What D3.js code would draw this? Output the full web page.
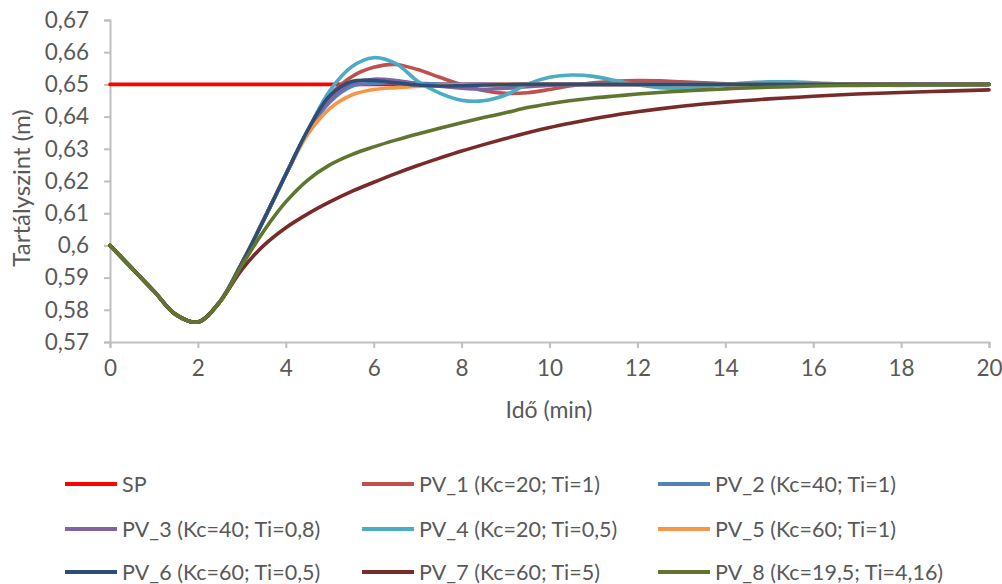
<!DOCTYPE html>
<html><head><meta charset="utf-8">
<script src="https://cdn.jsdelivr.net/npm/d3@7/dist/d3.min.js"></script>
<style>
body{margin:0;background:#fff;overflow:hidden;}
text{font-family:Lato,"Open Sans",sans-serif;fill:#595959;}
</style>
</head><body>
<svg id="chart" width="1002" height="584"></svg>
<script>
// ---- data ----
const times = [0,0.5,1,1.5,2,2.5,3,3.5,4,4.5,5,5.5,6,6.5,7,7.5,8,8.5,9,9.5,10,10.5,11,11.5,12,12.5,13,13.5,14,14.5,15,15.5,16,17,18,19,20];
const spValue = 0.65;
const pv1 = [0.6,0.5929,0.5858,0.5785,0.5762,0.5825,0.5945,0.608,0.622,0.6356,0.6465,0.6524,0.6553,0.6562,0.6546,0.6522,0.6499,0.6481,0.6472,0.6474,0.6484,0.6496,0.6505,0.651,0.6512,0.6511,0.6508,0.6505,0.6502,0.65,0.6499,0.6499,0.6499,0.6499,0.65,0.65,0.65];
const pv2 = [0.6,0.5929,0.5858,0.5785,0.5762,0.5825,0.5945,0.608,0.622,0.6352,0.6445,0.6494,0.6503,0.6505,0.6503,0.6501,0.65,0.65,0.65,0.65,0.65,0.65,0.65,0.65,0.65,0.65,0.65,0.65,0.65,0.65,0.65,0.65,0.65,0.65,0.65,0.65,0.65];
const pv3 = [0.6,0.5929,0.5858,0.5785,0.5762,0.5825,0.5945,0.608,0.622,0.6355,0.6452,0.6503,0.6516,0.6512,0.6503,0.6494,0.6488,0.6485,0.6488,0.6493,0.6497,0.6499,0.65,0.65,0.65,0.65,0.65,0.65,0.65,0.65,0.65,0.65,0.65,0.65,0.65,0.65,0.65];
const pv4 = [0.6,0.5929,0.5858,0.5785,0.5762,0.5825,0.5945,0.608,0.622,0.6357,0.648,0.6555,0.6583,0.6565,0.651,0.6473,0.6451,0.6449,0.6467,0.6501,0.6522,0.6529,0.6525,0.6512,0.6499,0.649,0.6488,0.6492,0.6499,0.6505,0.6508,0.6508,0.6505,0.6499,0.6497,0.6499,0.65];
const pv5 = [0.6,0.5929,0.5858,0.5785,0.5762,0.5825,0.5945,0.608,0.622,0.6345,0.6425,0.6467,0.6484,0.649,0.6494,0.6497,0.6498,0.6499,0.65,0.65,0.65,0.65,0.65,0.65,0.65,0.65,0.65,0.65,0.65,0.65,0.65,0.65,0.65,0.65,0.65,0.65,0.65];
const pv6 = [0.6,0.5929,0.5858,0.5785,0.5762,0.5825,0.5945,0.608,0.622,0.6358,0.6465,0.6509,0.6512,0.6505,0.6498,0.6495,0.6496,0.6498,0.6499,0.65,0.65,0.65,0.65,0.65,0.65,0.65,0.65,0.65,0.65,0.65,0.65,0.65,0.65,0.65,0.65,0.65,0.65];
const pv7 = [0.6,0.5929,0.5858,0.5785,0.5762,0.5825,0.5925,0.6,0.6055,0.6098,0.6135,0.6168,0.6196,0.6223,0.6248,0.6271,0.6293,0.6313,0.6332,0.635,0.6366,0.638,0.6393,0.6405,0.6415,0.6424,0.6432,0.6439,0.6445,0.645,0.6455,0.6459,0.6463,0.647,0.6475,0.6479,0.6483];
const pv8 = [0.6,0.5929,0.5858,0.5785,0.5762,0.5825,0.5938,0.6045,0.6135,0.6203,0.625,0.6282,0.6306,0.6327,0.6346,0.6364,0.6381,0.6397,0.6412,0.6428,0.644,0.645,0.6458,0.6464,0.647,0.6475,0.6479,0.6483,0.6486,0.6489,0.6491,0.6493,0.6495,0.6497,0.6498,0.6499,0.65];
const seriesNames = ["SP","PV_1 (Kc=20; Ti=1)","PV_2 (Kc=40; Ti=1)","PV_3 (Kc=40; Ti=0,8)","PV_4 (Kc=20; Ti=0,5)","PV_5 (Kc=60; Ti=1)","PV_6 (Kc=60; Ti=0,5)","PV_7 (Kc=60; Ti=5)","PV_8 (Kc=19,5; Ti=4,16)"];
const seriesColors = ["#FF0000","#C0504D","#4F81BD","#8064A2","#4BACC6","#F79646","#2C4D75","#772C2A","#5F7530"];
const xTicks = [0,2,4,6,8,10,12,14,16,18,20];
const yTicks = [0.57,0.58,0.59,0.6,0.61,0.62,0.63,0.64,0.65,0.66,0.67];
const xTitle = "Idő (min)";
const yTitle = "Tartályszint (m)";

// ---- chart ----
const svg = d3.select("#chart");
const x = d3.scaleLinear().domain([0,20]).range([110,989]);
const y = d3.scaleLinear().domain([0.57,0.67]).range([342,20]);
const fmt = v => d3.format(".2~f")(v).replace(".", ",");

const gx = svg.append("g").attr("transform","translate(0,342)")
  .call(d3.axisBottom(x).tickValues(xTicks).tickSize(6).tickPadding(9).tickFormat(d=>d));
const gy = svg.append("g").attr("transform","translate(110,0)")
  .call(d3.axisLeft(y).tickValues(yTicks).tickSize(6).tickPadding(15).tickFormat(fmt));
[gx,gy].forEach(g=>{
  g.select(".domain").attr("stroke","#BFBFBF").attr("stroke-width",2);
  g.selectAll(".tick line").attr("stroke","#BFBFBF").attr("stroke-width",2);
  g.selectAll(".tick text").style("font-size","22.5px").attr("fill","#595959");
});
gx.selectAll(".tick text").attr("dy","0.85em");

svg.append("text").attr("x",549).attr("y",418).attr("text-anchor","middle")
  .style("font-size","23px").text(xTitle);
svg.append("text").attr("transform","translate(30,188) rotate(-90)").attr("text-anchor","middle")
  .style("font-size","24px").text(yTitle);

const pvData = [pv1,pv2,pv3,pv4,pv5,pv6,pv7,pv8];
const spData = times.map(()=>spValue);
const allSeries = [spData].concat(pvData);
const line = d3.line().x((d,i)=>x(times[i])).y(d=>y(d)).curve(d3.curveCatmullRom.alpha(0.5));
const plot = svg.append("g");
allSeries.forEach((s,k)=>{
  plot.append("path").datum(s).attr("d",line).attr("fill","none")
    .attr("stroke",seriesColors[k]).attr("stroke-width",3.6)
    .attr("stroke-linejoin","round").attr("stroke-linecap","round");
});

// legend
const colX = [65,362,658];
const rowY = [484,529,572];
const leg = svg.append("g");
seriesNames.forEach((n,k)=>{
  const cx = colX[k%3], cy = rowY[Math.floor(k/3)];
  leg.append("line").attr("x1",cx).attr("x2",cx+52).attr("y1",cy).attr("y2",cy)
    .attr("stroke",seriesColors[k]).attr("stroke-width",4);
  leg.append("text").attr("x",cx+57).attr("y",cy).attr("dy","0.36em")
    .style("font-size","21.5px").text(n);
});
</script>
</body></html>
